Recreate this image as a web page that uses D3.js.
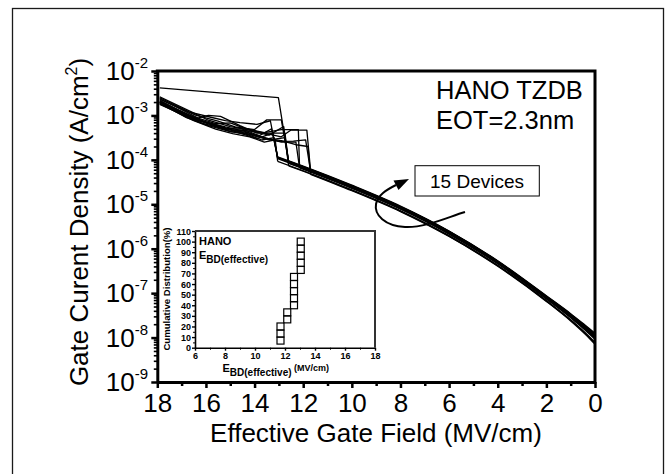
<!DOCTYPE html>
<html>
<head>
<meta charset="utf-8">
<script src="https://cdn.jsdelivr.net/npm/d3@7"></script>
<style>
  html, body { margin: 0; padding: 0; background: #fff; }
  svg { display: block; }
  text { font-family: "Liberation Sans", Arial, Helvetica, sans-serif; fill: #000; }
</style>
</head>
<body>
<svg id="chart" width="672" height="474"></svg>
<script>
// ---------------- data ----------------
// Gate field tick labels (MV/cm), axis runs from 18 down to 0
const fieldTicks = [18, 16, 14, 12, 10, 8, 6, 4, 2, 0];
const fieldMinorTicks = [17, 15, 13, 11, 9, 7, 5, 3, 1];
// Current density decades shown on the left axis (exponents of 10)
const decadeExponents = [-2, -3, -4, -5, -6, -7, -8, -9];

// Breakdown field of each device (MV/cm), same order as the curves below
const ebd = [13.05, 12.6, 13.05, 12.6, 11.7, 13.05, 12.15, 12.6, 13.05, 11.7, 12.6, 12.15, 13.05, 12.6, 11.7];

// J-E sweeps, [field (MV/cm), current density (A/cm^2)]
const dev01 = [[0,1.26e-8],[0.4,1.89e-8],[1,3.45e-8],[2,8.71e-8],[4,5.36e-7],[6,2.51e-6],[8,9.12e-6],[10,2.69e-5],[12,7.24e-5],[13.05,1.17e-4],
  [13.25,3.98e-4],[13.9,3.0e-4],[14.6,4.0e-4],[15.4,5.6e-4],[16.3,8.0e-4],[17.1,1.3e-3],[17.9,2.19e-3]];
const dev02 = [[0,1.20e-8],[0.4,1.82e-8],[1,3.35e-8],[2,8.51e-8],[4,5.24e-7],[6,2.46e-6],[8,8.91e-6],[10,2.63e-5],[12,7.08e-5],[12.6,9.33e-5],
  [13.02,2.51e-3],[17.9,4.17e-3]];
const dev03 = [[0,1.17e-8],[0.4,1.79e-8],[1,3.30e-8],[2,8.41e-8],[4,5.19e-7],[6,2.43e-6],[8,8.81e-6],[10,2.60e-5],[12,7.00e-5],[13.05,1.135e-4],
  [13.3,5.01e-4],[13.8,3.5e-4],[14.5,4.9e-4],[15.3,5.1e-4],[16.0,6.9e-4],[16.9,1.05e-3],[17.9,1.91e-3]];
const dev04 = [[0,1.15e-8],[0.4,1.75e-8],[1,3.25e-8],[2,8.32e-8],[4,5.13e-7],[6,2.40e-6],[8,8.71e-6],[10,2.57e-5],[12,6.92e-5],[12.6,9.12e-5],
  [12.9,7.94e-4],[13.5,7.94e-4],[14.0,4.8e-4],[14.8,5.5e-4],[15.5,7.4e-4],[16.4,1.0e-3],[17.9,2.29e-3]];
const dev05 = [[0,1.12e-8],[0.4,1.72e-8],[1,3.20e-8],[2,8.22e-8],[4,5.07e-7],[6,2.37e-6],[8,8.61e-6],[10,2.54e-5],[11.7,5.96e-5],
  [11.85,4.68e-4],[12.5,4.68e-4],[12.9,3.3e-4],[13.5,3.9e-4],[14.2,4.7e-4],[15.0,5.6e-4],[15.9,7.8e-4],[16.6,1.2e-3],[17.9,2.63e-3]];
const dev06 = [[0,1.10e-8],[0.4,1.69e-8],[1,3.15e-8],[2,8.13e-8],[4,5.01e-7],[6,2.34e-6],[8,8.51e-6],[10,2.51e-5],[12,6.76e-5],[13.05,1.10e-4],
  [13.2,3.16e-4],[13.7,2.8e-4],[14.4,3.9e-4],[15.0,4.4e-4],[15.8,6.2e-4],[16.6,8.7e-4],[17.9,2.0e-3]];
const dev07 = [[0,1.07e-8],[0.4,1.66e-8],[1,3.11e-8],[2,8.04e-8],[4,4.95e-7],[6,2.32e-6],[8,8.41e-6],[10,2.48e-5],[12.15,7.16e-5],
  [12.2,4.79e-4],[12.9,4.79e-4],[13.6,4.1e-4],[14.4,5.1e-4],[15.0,6.8e-4],[15.6,6.5e-4],[16.3,8.6e-4],[17.9,2.40e-3]];
const dev08 = [[0,1.05e-8],[0.4,1.63e-8],[1,3.06e-8],[2,7.94e-8],[4,4.90e-7],[6,2.29e-6],[8,8.32e-6],[10,2.45e-5],[12,6.61e-5],[12.6,8.71e-5],
  [12.75,3.98e-4],[13.3,3.98e-4],[13.9,4.0e-4],[14.6,5.9e-4],[15.4,9.5e-4],[15.9,1.0e-3],[16.5,8.3e-4],[17.9,2.09e-3]];
const dev09 = [[0,1.02e-8],[0.4,1.60e-8],[1,3.02e-8],[2,7.85e-8],[4,4.84e-7],[6,2.26e-6],[8,8.22e-6],[10,2.43e-5],[12,6.53e-5],[13.05,1.06e-4],
  [13.35,7.59e-4],[13.9,6.3e-4],[14.6,6.9e-4],[15.2,7.6e-4],[15.8,9.1e-4],[16.7,1.2e-3],[17.9,2.51e-3]];
const dev10 = [[0,1.0e-8],[0.4,1.57e-8],[1,2.97e-8],[2,7.76e-8],[4,4.79e-7],[6,2.24e-6],[8,8.13e-6],[10,2.40e-5],[11.7,5.62e-5],
  [11.9,2.82e-4],[12.4,2.63e-4],[13.0,2.6e-4],[13.6,3.1e-4],[14.4,4.4e-4],[15.2,5.5e-4],[16.2,7.5e-4],[17.9,1.95e-3]];
const dev11 = [[0,9.55e-9],[0.4,1.51e-8],[1,2.88e-8],[2,7.59e-8],[4,4.67e-7],[6,2.19e-6],[8,7.94e-6],[10,2.34e-5],[12,6.31e-5],[12.6,8.32e-5],
  [12.8,5.62e-4],[13.4,3.6e-4],[14.1,4.4e-4],[14.9,4.7e-4],[15.7,6.4e-4],[16.5,8.0e-4],[17.9,2.0e-3]];
const dev12 = [[0,9.12e-9],[0.4,1.46e-8],[1,2.80e-8],[2,7.41e-8],[4,4.57e-7],[6,2.13e-6],[8,7.76e-6],[10,2.29e-5],[12.15,6.61e-5],
  [12.3,2.51e-4],[12.9,2.5e-4],[13.5,3.1e-4],[14.3,3.9e-4],[15.1,4.9e-4],[16.0,7.0e-4],[17.9,2.04e-3]];
const dev13 = [[0,7.76e-9],[0.4,1.28e-8],[1,2.52e-8],[2,6.84e-8],[4,4.22e-7],[6,1.97e-6],[8,7.16e-6],[10,2.11e-5],[12,5.69e-5],[13.05,9.23e-5],
  [13.15,2.82e-4],[13.6,2.5e-4],[14.2,3.3e-4],[14.9,3.9e-4],[15.6,4.9e-4],[16.5,7.6e-4],[17.9,1.82e-3]];
const dev14 = [[0,7.41e-9],[0.4,1.24e-8],[1,2.45e-8],[2,6.68e-8],[4,4.12e-7],[6,1.92e-6],[8,7.0e-6],[10,2.07e-5],[12,5.56e-5],[12.6,7.33e-5],
  [12.75,3.16e-4],[13.4,2.8e-4],[14.2,3.7e-4],[15.0,4.3e-4],[15.9,5.9e-4],[16.8,8.9e-4],[17.9,1.91e-3]];
const dev15 = [[0,7.08e-9],[0.4,1.19e-8],[1,2.37e-8],[2,6.53e-8],[4,4.03e-7],[6,1.88e-6],[8,6.84e-6],[10,2.02e-5],[11.7,4.73e-5],
  [11.8,2.0e-4],[12.3,2.19e-4],[12.9,2.7e-4],[13.5,3.0e-4],[14.3,4.1e-4],[15.2,4.9e-4],[16.1,6.5e-4],[17.9,1.78e-3]];
const devices = [dev01, dev02, dev03, dev04, dev05, dev06, dev07, dev08, dev09, dev10, dev11, dev12, dev13, dev14, dev15];

// Inset: cumulative distribution of effective breakdown field
const cdfField = [11.7, 11.7, 11.7, 12.15, 12.15, 12.6, 12.6, 12.6, 12.6, 12.6, 13.05, 13.05, 13.05, 13.05, 13.05];
const cdfPercent = [6.7, 13.3, 20, 26.7, 33.3, 40, 46.7, 53.3, 60, 66.7, 73.3, 80, 86.7, 93.3, 100];
const insetFieldTicks = [6, 8, 10, 12, 14, 16, 18];
const insetPercentTicks = [0, 10, 20, 30, 40, 50, 60, 70, 80, 90, 100, 110];

// ---------------- drawing ----------------
const svg = d3.select("#chart");
const FONT = '"Liberation Sans", Arial, Helvetica, sans-serif';

// outer frame
svg.append("rect")
  .attr("x", 12.5).attr("y", 8.5).attr("width", 651).attr("height", 480)
  .attr("fill", "none").attr("stroke", "#1a1a1a").attr("stroke-width", 1.3);

// main plot area
const P = { left: 157.3, right: 595, top: 71, bottom: 382 };
const x = d3.scaleLinear().domain([18, 0]).range([P.left, P.right]);
const y = d3.scaleLog().domain([1e-9, 1e-2]).range([P.bottom, P.top]);

svg.append("clipPath").attr("id", "plotClip")
  .append("rect").attr("x", P.left).attr("y", P.top)
  .attr("width", P.right - P.left).attr("height", P.bottom - P.top);

const curves = svg.append("g").attr("clip-path", "url(#plotClip)")
  .attr("fill", "none").attr("stroke", "#000").attr("stroke-width", 1.3)
  .attr("stroke-linejoin", "round");

const smoothLine = d3.line().x(d => x(d[0])).y(d => y(d[1])).curve(d3.curveMonotoneX);
const straightLine = d3.line().x(d => x(d[0])).y(d => y(d[1]));

devices.forEach((dev, i) => {
  const pre = dev.filter(d => d[0] <= ebd[i]);
  const post = dev.filter(d => d[0] >= ebd[i]);
  curves.append("path").attr("d", smoothLine(pre));
  curves.append("path").attr("d", straightLine(post));
});

// bottom axis (major + minor ticks)
const gx = svg.append("g").attr("transform", `translate(0,${P.bottom})`)
  .call(d3.axisBottom(x).tickValues(fieldTicks).tickSize(6).tickSizeOuter(0).tickFormat(d3.format("d")));
gx.select(".domain").attr("stroke-width", 3);
gx.selectAll(".tick line").attr("stroke-width", 2.5);
gx.selectAll(".tick text")
  .attr("font-family", FONT).attr("font-size", 26).attr("fill", "#000")
  .attr("y", 30).attr("dy", null);
const gxm = svg.append("g").attr("transform", `translate(0,${P.bottom})`)
  .call(d3.axisBottom(x).tickValues(fieldMinorTicks).tickSize(4).tickSizeOuter(0).tickFormat(""));
gxm.select(".domain").remove();
gxm.selectAll(".tick line").attr("stroke-width", 2.5);

// left axis: decades with minor log ticks
const decadeValues = decadeExponents.map(e => Math.pow(10, e));
const gy = svg.append("g").attr("transform", `translate(${P.left},0)`)
  .call(d3.axisLeft(y).tickValues(decadeValues).tickSize(6).tickSizeOuter(0).tickFormat(""));
gy.select(".domain").attr("stroke-width", 3);
gy.selectAll(".tick line").attr("stroke-width", 2.5);
const minorValues = y.ticks().filter(v => decadeValues.every(d => Math.abs(v / d - 1) > 1e-6));
const gym = svg.append("g").attr("transform", `translate(${P.left},0)`)
  .call(d3.axisLeft(y).tickValues(minorValues).tickSize(3.5).tickSizeOuter(0).tickFormat(""));
gym.select(".domain").remove();
gym.selectAll(".tick line").attr("stroke-width", 1.6);

// decade labels 10^n
decadeExponents.forEach(e => {
  const t = svg.append("text")
    .attr("x", 148).attr("y", y(Math.pow(10, e)) + 9)
    .attr("text-anchor", "end").attr("font-family", FONT).attr("font-size", 26);
  t.append("tspan").text("10");
  t.append("tspan").attr("dy", -12).attr("font-size", 15).text(String(e));
});

// top and right frame of the plot
svg.append("path")
  .attr("d", `M${P.left},${P.top}H${P.right}V${P.bottom}`)
  .attr("fill", "none").attr("stroke", "#000").attr("stroke-width", 3)
  .attr("stroke-linecap", "square");

// axis titles
svg.append("text")
  .attr("x", 376).attr("y", 442).attr("text-anchor", "middle")
  .attr("font-family", FONT).attr("font-size", 26)
  .text("Effective Gate Field (MV/cm)");

const yTitle = svg.append("text")
  .attr("transform", "translate(88,222) rotate(-90)")
  .attr("text-anchor", "middle").attr("font-family", FONT).attr("font-size", 26);
yTitle.append("tspan").text("Gate Curent Density (A/cm");
yTitle.append("tspan").attr("dy", -11).attr("font-size", 16).text("2");
yTitle.append("tspan").attr("dy", 11).text(")");

// sample description
svg.append("text").attr("x", 436).attr("y", 99)
  .attr("font-family", FONT).attr("font-size", 25.5).text("HANO TZDB");
svg.append("text").attr("x", 436).attr("y", 129)
  .attr("font-family", FONT).attr("font-size", 25.5).text("EOT=2.3nm");

// "15 Devices" callout with curved arrow
svg.append("rect").attr("x", 415).attr("y", 165.7).attr("width", 124.3).attr("height", 30.3)
  .attr("fill", "#fff").attr("stroke", "#000").attr("stroke-width", 1);
svg.append("text").attr("x", 477).attr("y", 188).attr("text-anchor", "middle")
  .attr("font-family", FONT).attr("font-size", 19).text("15 Devices");
svg.append("path")
  .attr("d", "M465,212 C448,217 425,228 405,227 C385,226 374,215 376,204 C378,195 386,190 396,185")
  .attr("fill", "none").attr("stroke", "#000").attr("stroke-width", 2);
svg.append("path")
  .attr("d", "M409,179 L393.5,180.5 L398.5,190 Z")
  .attr("fill", "#000");

// ---------------- inset ----------------
const I = { left: 195, right: 375, top: 231, bottom: 347.7 };
const ix = d3.scaleLinear().domain([6, 18]).range([I.left, I.right]);
const iy = d3.scaleLinear().domain([0, 110]).range([I.bottom, I.top]);

svg.append("rect").attr("x", I.left).attr("y", I.top)
  .attr("width", I.right - I.left).attr("height", I.bottom - I.top)
  .attr("fill", "#fff").attr("stroke", "none");

const gix = svg.append("g").attr("transform", `translate(0,${I.bottom})`)
  .call(d3.axisBottom(ix).tickValues(insetFieldTicks).tickSize(3).tickSizeOuter(0).tickFormat(d3.format("d")));
gix.select(".domain").attr("stroke-width", 1.6);
gix.selectAll(".tick line").attr("stroke-width", 1.4);
gix.selectAll(".tick text").attr("font-family", FONT).attr("font-weight", "bold")
  .attr("font-size", 9).attr("fill", "#000").attr("y", 11.5).attr("dy", null);
const gixm = svg.append("g").attr("transform", `translate(0,${I.bottom})`)
  .call(d3.axisBottom(ix).tickValues(d3.range(7, 18, 2)).tickSize(2).tickSizeOuter(0).tickFormat(""));
gixm.select(".domain").remove();

const giy = svg.append("g").attr("transform", `translate(${I.left},0)`)
  .call(d3.axisLeft(iy).tickValues(insetPercentTicks).tickSize(3).tickSizeOuter(0).tickFormat(d3.format("d")));
giy.select(".domain").attr("stroke-width", 1.6);
giy.selectAll(".tick line").attr("stroke-width", 1.4);
giy.selectAll(".tick text").attr("font-family", FONT).attr("font-weight", "bold")
  .attr("font-size", 9).attr("fill", "#000").attr("x", -4).attr("dy", "0.34em");
const giym = svg.append("g").attr("transform", `translate(${I.left},0)`)
  .call(d3.axisLeft(iy).tickValues(d3.range(5, 110, 10)).tickSize(2).tickSizeOuter(0).tickFormat(""));
giym.select(".domain").remove();

svg.append("path")
  .attr("d", `M${I.left},${I.top}H${I.right}V${I.bottom}`)
  .attr("fill", "none").attr("stroke", "#333").attr("stroke-width", 2);

// inset markers
svg.append("g").selectAll("rect").data(cdfField).join("rect")
  .attr("x", (d, i) => ix(d) - 3.5).attr("y", (d, i) => iy(cdfPercent[i]) - 3.5)
  .attr("width", 7).attr("height", 7)
  .attr("fill", "none").attr("stroke", "#000").attr("stroke-width", 1.2);

// inset labels
svg.append("text").attr("x", 199).attr("y", 245)
  .attr("font-family", FONT).attr("font-weight", "bold").attr("font-size", 11).text("HANO");
const ebdLbl = svg.append("text").attr("x", 199).attr("y", 259)
  .attr("font-family", FONT).attr("font-weight", "bold").attr("font-size", 11);
ebdLbl.append("tspan").text("E");
ebdLbl.append("tspan").attr("dy", 4).attr("font-size", 10).text("BD(effective)");

const ixTitle = svg.append("text").attr("x", 222.5).attr("y", 371.5)
  .attr("font-family", FONT).attr("font-weight", "bold").attr("font-size", 11);
ixTitle.append("tspan").text("E");
ixTitle.append("tspan").attr("dy", 4).attr("font-size", 10).text("BD(effective)");
ixTitle.append("tspan").attr("dy", -5).attr("font-size", 9).text(" (MV/cm)");

svg.append("text").attr("transform", "translate(170,289) rotate(-90)")
  .attr("text-anchor", "middle").attr("font-family", FONT).attr("font-weight", "bold")
  .attr("font-size", 9.6).text("Cumulative Distribution(%)");
</script>
</body>
</html>
